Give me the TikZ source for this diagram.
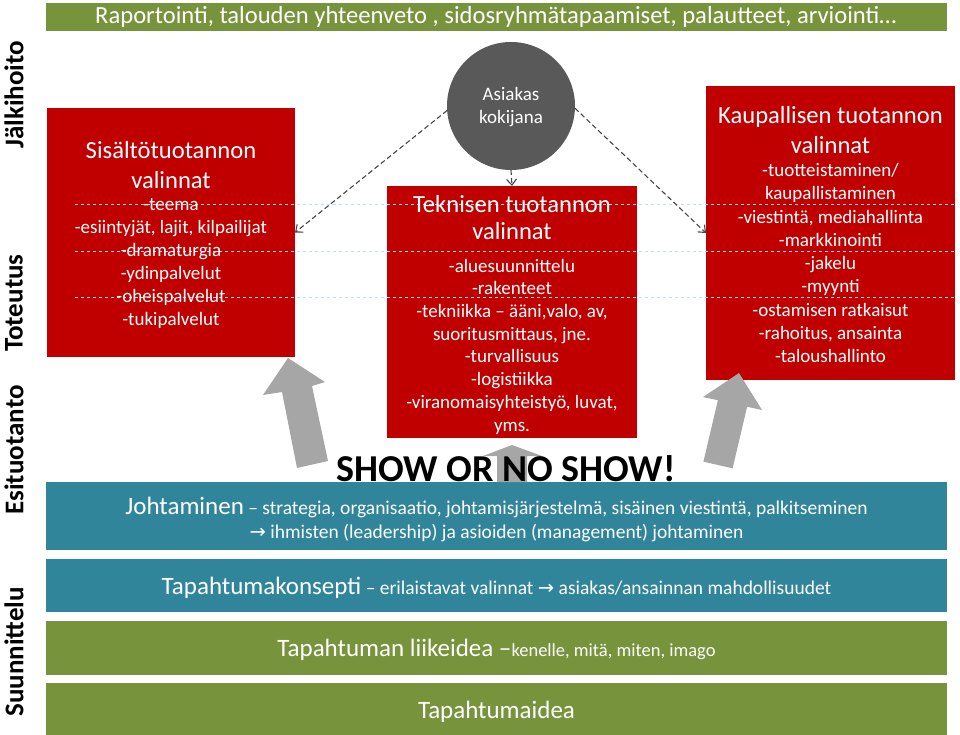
\documentclass[tikz,border=0pt]{standalone}
\usepackage{fontspec}
\setmainfont{Carlito}
\newfontfamily\symf{DejaVu Sans}
\usetikzlibrary{arrows.meta}
\definecolor{sred}{RGB}{192,0,0}
\definecolor{steal}{RGB}{49,133,155}
\definecolor{sgreen}{RGB}{119,147,60}
\definecolor{sgray}{RGB}{166,166,166}
\definecolor{scirc}{RGB}{89,89,89}
\definecolor{sline}{RGB}{200,222,235}
\definecolor{sdash}{RGB}{70,70,70}
\newcommand{\fs}[2]{\fontsize{#1}{#2}\selectfont}
\begin{document}
\begin{tikzpicture}[x=1pt,y=-1pt,
  bar/.style={inner sep=0pt,outer sep=0pt,minimum width=901pt,text=white},
  redbox/.style={fill=sred,inner sep=0pt,outer sep=0pt},
  boxtext/.style={text=white,align=center,inner sep=0pt},
  phase/.style={rotate=90,font=\bfseries\fs{27}{30},inner sep=0pt},
  dasharrow/.style={draw=sdash,dash pattern=on 5pt off 3pt,line width=1.1pt,-{Straight Barb[length=6pt,width=10pt]}},
  guideline/.style={draw=sline,dashed,line width=0.9pt},
  blockarrow/.style={fill=sgray,draw=none}]
\useasboundingbox (0,0) rectangle (960,735);
% bars
\node[bar,fill=sgreen,minimum height=28pt] (top) at (496.5,17) {};
\node[bar,fill=steal,minimum height=68pt] (lead) at (496.5,516) {};
\node[bar,fill=steal,minimum height=53pt] (concept) at (496.5,585.5) {};
\node[bar,fill=sgreen,minimum height=54pt] (business) at (496.5,648) {};
\node[bar,fill=sgreen,minimum height=52pt] (idea) at (496.5,709) {};
% boxes
\node[redbox,minimum width=248pt,minimum height=249pt] (lbox) at (171,232.5) {};
\node[redbox,minimum width=250pt,minimum height=252pt] (cbox) at (512,312) {};
\node[redbox,minimum width=249pt,minimum height=294pt] (rbox) at (830.5,233) {};
\node[circle,fill=scirc,minimum size=128pt,inner sep=0pt,outer sep=0pt] (circ) at (511,106) {};
% guide lines
\draw[guideline] (75,204) -- (955,204);
\draw[guideline] (75,251) -- (955,251);
\draw[guideline] (75,297) -- (955,297);
% dashed connectors
\draw[dasharrow] (circ.184) -- (lbox.east);
\draw[dasharrow] (circ.south) -- (cbox.north);
\draw[dasharrow] (circ.358) -- (rbox.west);
% block arrows
\fill[blockarrow] (297,468) -- (282,392) -- (263,395) -- (288,358) -- (325,382) -- (312,386) -- (328,461) -- cycle;
\fill[blockarrow] (703.4,461.7) -- (717.9,400.2) -- (703,397) -- (739,373) -- (762,410) -- (747.1,406.8) -- (732.6,468.3) -- cycle;
\fill[blockarrow] (497,482) -- (497,456) -- (483,456) -- (512,445) -- (542,456) -- (527,456) -- (527,482) -- cycle;
% phase labels
\node[phase] (p1) at (14,95) {Jälkihoito};
\node[phase] (p2) at (14,303) {Toteutus};
\node[phase] (p3) at (14,450) {Esituotanto};
\node[phase] (p4) at (14,652) {Suunnittelu};
% texts
\node[anchor=west,text=white,font=\fs{24.6}{28},inner sep=0pt] (toptext) at (95,17) {Raportointi, talouden yhteenveto , sidosryhmätapaamiset, palautteet, arviointi…};
\node[boxtext,font=\fs{19}{23}] (circtext) at (511,107.5) {Asiakas\\kokijana};
\node[boxtext,font=\fs{24.6}{30}] (ltitle) at (171,165) {Sisältötuotannon\\valinnat};
\node[boxtext,font=\fs{19}{23}] (llist) at (171,263.5) {-teema\\-esiintyjät, lajit, kilpailijat\\-dramaturgia\\-ydinpalvelut\\-oheispalvelut\\-tukipalvelut};
\node[boxtext,font=\fs{24.6}{27}] (ctitle) at (512,217.5) {Teknisen tuotannon\\valinnat};
\node[boxtext,font=\fs{19}{22.7}] (clist) at (512,346.5) {-aluesuunnittelu\\-rakenteet\\-tekniikka – ääni,valo, av,\\suoritusmittaus, jne.\\-turvallisuus\\-logistiikka\\-viranomaisyhteistyö, luvat,\\yms.};
\node[boxtext,font=\fs{24.6}{30}] (rtitle) at (830.5,130) {Kaupallisen tuotannon\\valinnat};
\node[boxtext,font=\fs{19}{23.25}] (rlist) at (830.5,263) {-tuotteistaminen/\\kaupallistaminen\\-viestintä, mediahallinta\\-markkinointi\\-jakelu\\-myynti\\-ostamisen ratkaisut\\-rahoitus, ansainta\\-taloushallinto};
\node[boxtext,font=\fs{19.5}{24}] (leadtext) at (496.5,519) {{\fs{25}{24}Johtaminen} – strategia, organisaatio, johtamisjärjestelmä, sisäinen viestintä, palkitseminen\\{\symf →} ihmisten (leadership) ja asioiden (management) johtaminen};
\node[boxtext,font=\fs{19.5}{24}] (concepttext) at (496.5,588) {{\fs{25}{24}Tapahtumakonsepti} – erilaistavat valinnat {\symf →} asiakas/ansainnan mahdollisuudet};
\node[boxtext,font=\fs{18.5}{24}] (businesstext) at (496.5,650) {{\fs{25}{24}Tapahtuman liikeidea –}kenelle, mitä, miten, imago};
\node[boxtext,font=\fs{25}{24}] (ideatext) at (496.5,712) {Tapahtumaidea};
\node[font=\bfseries\fs{38}{44},inner sep=0pt,anchor=base] (show) at (506,481) {SHOW OR NO SHOW!};
\end{tikzpicture}
\end{document}
